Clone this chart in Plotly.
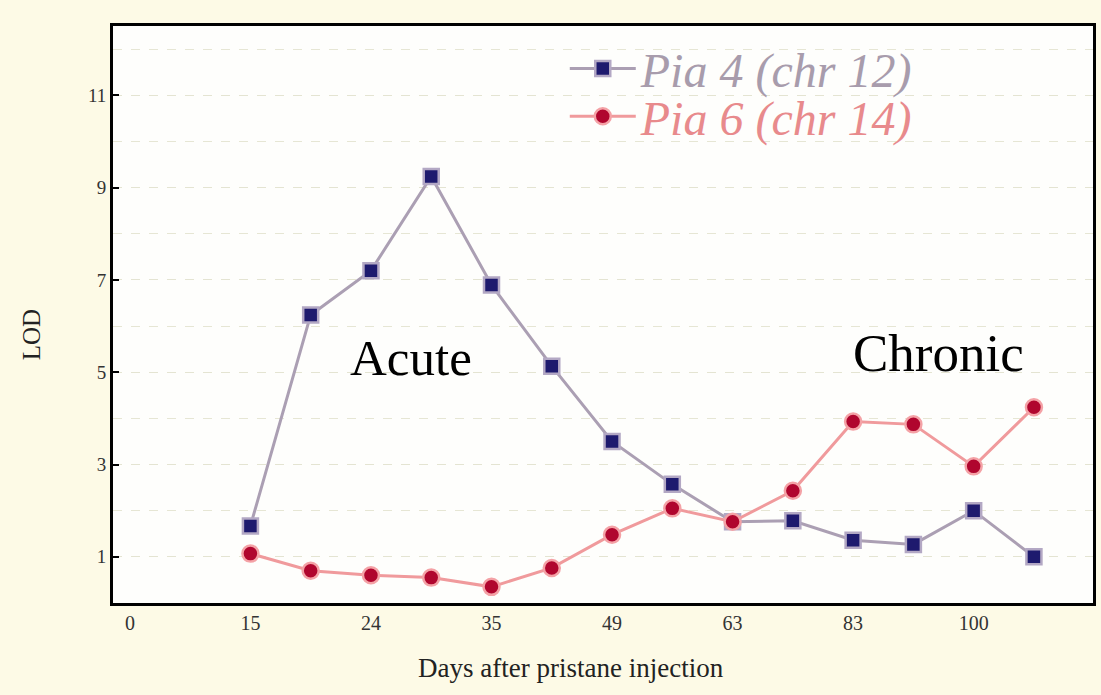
import plotly.graph_objects as go

# Axis tick labels (days after pristane injection), evenly spaced on the axis
day_ticks = ["0", "15", "24", "35", "49", "63", "83", "100"]
tick_pos = [0, 1, 2, 3, 4, 5, 6, 7]

# Sample positions in tick-index units (a point on every tick and midway between)
sample_pos = [1, 1.5, 2, 2.5, 3, 3.5, 4, 4.5, 5, 5.5, 6, 6.5, 7, 7.5]

pia4_lod = [1.67, 6.24, 7.2, 9.24, 6.89, 5.13, 3.5, 2.57, 1.76, 1.78, 1.36, 1.27, 2.0, 1.0]
pia6_lod = [1.07, 0.7, 0.6, 0.55, 0.35, 0.76, 1.48, 2.05, 1.76, 2.43, 3.93, 3.87, 2.96, 4.24]

y_ticks = [1, 3, 5, 7, 9, 11]

x_title = "Days after pristane injection"
y_title = "LOD"

serif = "Liberation Serif, Times New Roman, serif"
page_bg = "#fdfae6"

fig = go.Figure()
fig.add_trace(go.Scatter(
    x=sample_pos, y=pia4_lod, mode="lines+markers",
    name='<span style="color:#a89cac">Pia 4 (chr 12)</span>',
    line=dict(color="#ab9fb3", width=3),
    marker=dict(symbol="square", size=15, color="#1e1a6e",
                line=dict(color="#b3a8c4", width=2.5)),
    legend="legend",
))
fig.add_trace(go.Scatter(
    x=sample_pos, y=pia6_lod, mode="lines+markers",
    name='<span style="color:#e88a8c">Pia 6 (chr 14)</span>',
    line=dict(color="#f09a9c", width=3),
    marker=dict(symbol="circle", size=16, color="#b0062e",
                line=dict(color="#f4a2a6", width=2.5)),
    legend="legend2",
))

fig.add_annotation(x=2.33, y=5.3, xref="x", yref="y", text="Acute",
                   showarrow=False, font=dict(family=serif, size=51, color="black"))
fig.add_annotation(x=6.71, y=5.42, xref="x", yref="y", text="Chronic",
                   showarrow=False, font=dict(family=serif, size=53, color="black"))

# axis titles placed as in the reference (slightly off-centre)
fig.add_annotation(x=0.467, y=-0.113, xref="paper", yref="paper", text=x_title,
                   showarrow=False, xanchor="center", yanchor="middle",
                   font=dict(family=serif, size=27, color="#222222"))
fig.add_annotation(x=-0.083, y=0.465, xref="paper", yref="paper", text=y_title,
                   showarrow=False, textangle=-90, xanchor="center", yanchor="middle",
                   font=dict(family=serif, size=25, color="#222222"))

leg_common = dict(xanchor="left", yanchor="middle", bgcolor="rgba(0,0,0,0)",
                  font=dict(family=serif, size=48, style="italic"), itemwidth=66)

fig.update_layout(
    width=1101, height=695,
    paper_bgcolor=page_bg,
    plot_bgcolor="#fefefc",
    margin=dict(l=113, r=5, t=26, b=92),
    font=dict(family=serif, color="#222222"),
    showlegend=True,
    legend=dict(x=0.461, y=0.926, **leg_common),
    legend2=dict(x=0.461, y=0.843, **leg_common),
)
fig.update_xaxes(
    range=[-0.14, 7.99], tickmode="array", tickvals=tick_pos, ticktext=day_ticks,
    showgrid=False, zeroline=False,
    showline=True, mirror=True, linecolor="black", linewidth=3,
    ticks="", tickfont=dict(family=serif, size=20, color="#333333"),
)
fig.update_yaxes(
    range=[0, 12.5], tickmode="array", tickvals=y_ticks,
    showgrid=True, gridcolor="#e4e4d2", griddash="dash", gridwidth=1,
    minor=dict(dtick=1, tick0=0, showgrid=True, gridcolor="#e6e6d4", griddash="dash"),
    zeroline=False,
    showline=True, mirror=True, linecolor="black", linewidth=3,
    ticks="inside", ticklen=6, tickcolor="black", tickwidth=2,
    tickfont=dict(family=serif, size=19, color="#333333"),
)

fig.write_html(
    "out.html",
    config={"displayModeBar": False},
    post_script="document.body.style.margin='0';document.body.style.background='%s';" % page_bg,
)
